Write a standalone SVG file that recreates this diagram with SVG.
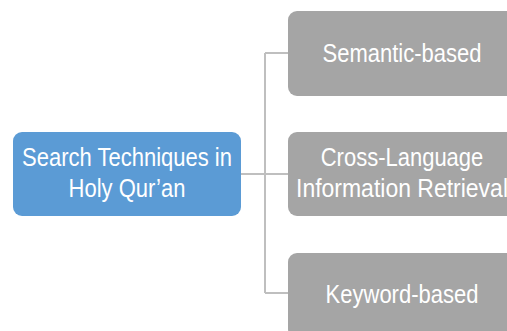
<svg xmlns="http://www.w3.org/2000/svg" width="507" height="331" viewBox="0 0 507 331">
<style>
.t{font-family:"Liberation Sans",Arial,sans-serif;font-size:22px;fill:#fff;text-anchor:middle}
.g{fill:#a5a5a5}
.b{fill:#5b9bd5}
.c{fill:none;stroke:#bfbfbf;stroke-width:2}
</style>
<rect width="507" height="331" fill="#fff"/>
<g id="connectors">
<path class="c" d="M241 174H288M265 53V293M265 53H288M265 293H288"/>
</g>
<g id="root">
<rect class="b" x="13" y="132" width="228" height="84" rx="9"/>
<text class="t" transform="translate(127 166) scale(1 1.17)">Search Techniques in</text>
<text class="t" transform="translate(127 197) scale(1 1.17)">Holy Qur’an</text>
</g>
<g id="semantic">
<rect class="g" x="288" y="11" width="228" height="85" rx="9"/>
<text class="t" transform="translate(402 62) scale(1 1.17)">Semantic-based</text>
</g>
<g id="clir">
<rect class="g" x="288" y="132" width="228" height="84" rx="9"/>
<text class="t" transform="translate(402 166) scale(1 1.17)">Cross-Language</text>
<text class="t" transform="translate(402 197) scale(1 1.17)" textLength="212" lengthAdjust="spacingAndGlyphs">Information Retrieval</text>
</g>
<g id="keyword">
<rect class="g" x="288" y="253" width="228" height="85" rx="9"/>
<text class="t" transform="translate(402 303) scale(1 1.17)">Keyword-based</text>
</g>
</svg>
